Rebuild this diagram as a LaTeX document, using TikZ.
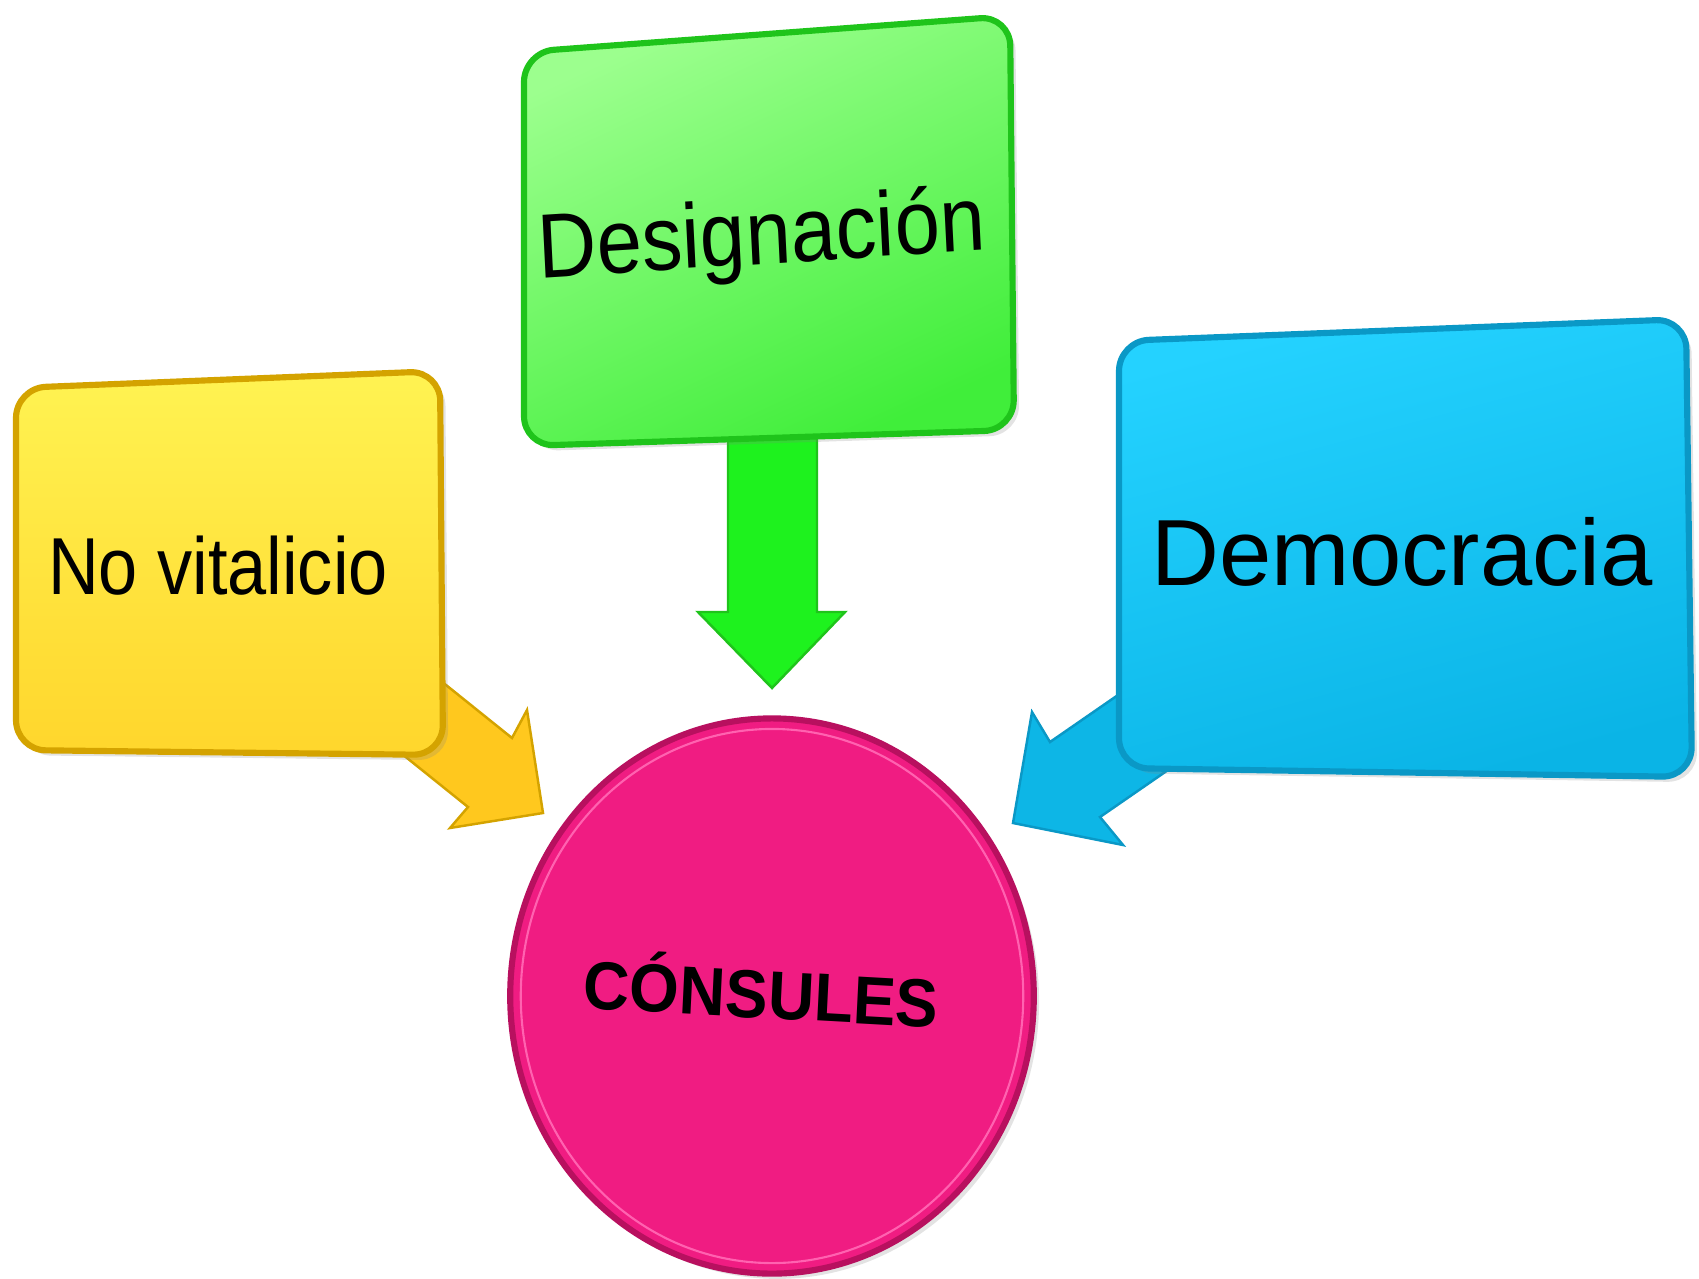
\documentclass[tikz,border=0pt]{standalone}
\usepackage{fontspec}
\setmainfont{Liberation Sans}
\usetikzlibrary{shadows}

\definecolor{amarilloarriba}{HTML}{FFF352}
\definecolor{amarilloabajo}{HTML}{FFD62C}
\definecolor{amarilloborde}{HTML}{D4A300}
\definecolor{amarilloflecha}{HTML}{FFC81E}
\definecolor{verdearriba}{HTML}{9CFF8E}
\definecolor{verdeabajo}{HTML}{40EE3A}
\definecolor{verdeborde}{HTML}{1FC41B}
\definecolor{verdeflecha}{HTML}{1EF21E}
\definecolor{azularriba}{HTML}{24D2FF}
\definecolor{azulabajo}{HTML}{0AB4E6}
\definecolor{azulborde}{HTML}{0A98C6}
\definecolor{azulflecha}{HTML}{0DB6E6}
\definecolor{rosa}{HTML}{F01C82}
\definecolor{rosaborde}{HTML}{B8105F}
\definecolor{rosaclaro}{HTML}{FF62B0}

\begin{document}
\begin{tikzpicture}[
    x=0.02cm, y=-0.02cm,
    caja/.style={rounded corners=17pt, line width=3.5pt,
        drop shadow={shadow xshift=3pt, shadow yshift=-3pt, opacity=0.22}},
    flecha/.style={line width=1.4pt, line join=miter},
    etiqueta/.style={inner sep=0pt, anchor=base, text=black}
]
    \useasboundingbox (0,0) rectangle (1699,1278);

    % Arrows
    \draw[flecha, draw=amarilloborde, fill=amarilloflecha]
        (395,644) -- (512,738) -- (527,710) -- (543,813) -- (450,828) -- (468,807) -- (351,713) -- cycle;
    \draw[flecha, draw=verdeborde, fill=verdeflecha]
        (728,430) -- (728,612) -- (698,612) -- (772,688) -- (845,612) -- (817,612) -- (817,430) -- cycle;
    \draw[flecha, draw=azulborde, fill=azulflecha]
        (1173,657) -- (1050,742) -- (1032,712) -- (1013,823) -- (1123,845) -- (1100,817) -- (1223,732) -- cycle;

    % Boxes
    \draw[caja, draw=amarilloborde, top color=amarilloarriba, bottom color=amarilloabajo]
        (16,388) -- (440,371) -- (443,755) -- (16,750) -- cycle;
    \draw[caja, draw=verdeborde, top color=verdearriba, bottom color=verdeabajo, shading angle=25]
        (524,52) -- (1010,16) -- (1014,430) -- (524,446) -- cycle;
    \draw[caja, draw=azulborde, top color=azularriba, bottom color=azulabajo, shading angle=15]
        (1119,341) -- (1686,319) -- (1692,777) -- (1119,768) -- cycle;

    % Circle
    \draw[line width=3.5pt, draw=rosaborde, fill=rosa,
        drop shadow={shadow xshift=3pt, shadow yshift=-3pt, opacity=0.22}]
        (772,996) ellipse [x radius=149pt, y radius=158pt];
    \draw[line width=1.2pt, draw=rosaclaro] (772,996) ellipse [x radius=143pt, y radius=152pt];

    % Labels
    \node[etiqueta, font=\fontsize{46}{50}\selectfont, xscale=0.87] (novital) at (218,594) {No vitalicio};
    \node[etiqueta, font=\fontsize{52}{56}\selectfont, xscale=0.89, rotate=3.2] (desig) at (763,264) {Designación};
    \node[etiqueta, font=\fontsize{53.5}{58}\selectfont] (democ) at (1402,585) {Democracia};
    \node[etiqueta, font=\bfseries\fontsize{38.7}{42}\selectfont, xscale=0.94, rotate=-3] (consules) at (760,1018) {CÓNSULES};
\end{tikzpicture}
\end{document}
